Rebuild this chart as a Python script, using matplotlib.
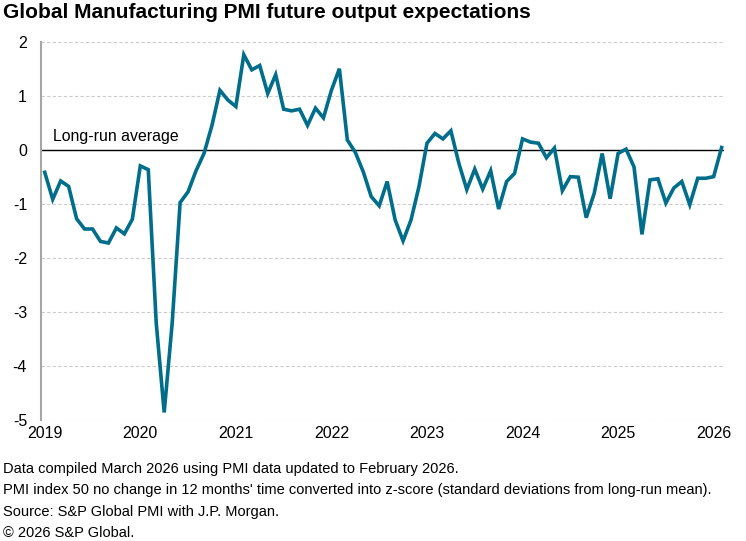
import matplotlib.pyplot as plt
import numpy as np

plt.rcParams["font.family"] = ["Liberation Sans", "DejaVu Sans"]
plt.rcParams["axes.unicode_minus"] = False

# monthly z-scores, Jan 2019 .. Feb 2026
values = [
    -0.41, -0.91, -0.57, -0.67, -1.27, -1.46, -1.46, -1.69, -1.72, -1.44, -1.55, -1.28,  # 2019
    -0.29, -0.36, -3.20, -4.86, -3.21, -0.97, -0.77, -0.38, -0.06, 0.46, 1.11, 0.93,     # 2020
    0.81, 1.77, 1.49, 1.57, 1.05, 1.40, 0.76, 0.73, 0.76, 0.46, 0.78, 0.60,              # 2021
    1.11, 1.51, 0.19, -0.04, -0.40, -0.86, -1.03, -0.58, -1.29, -1.68, -1.29, -0.67,     # 2022
    0.13, 0.31, 0.21, 0.36, -0.24, -0.73, -0.35, -0.72, -0.38, -1.09, -0.58, -0.43,      # 2023
    0.21, 0.15, 0.13, -0.14, 0.04, -0.75, -0.49, -0.50, -1.25, -0.80, -0.06, -0.90,      # 2024
    -0.06, 0.02, -0.31, -1.56, -0.55, -0.53, -0.98, -0.70, -0.58, -1.01, -0.52, -0.52,   # 2025
    -0.49, 0.05,                                                                         # 2026
]
years = [2019, 2020, 2021, 2022, 2023, 2024, 2025, 2026]
yticks = [2, 1, 0, -1, -2, -3, -4, -5]

footnotes = [
    "Data compiled March 2026 using PMI data updated to February 2026.",
    "PMI index 50 no change in 12 months' time converted into z-score (standard deviations from long-run mean).",
    "Source: S&P Global PMI with J.P. Morgan.",
    "\u00a9 2026 S&P Global.",
]

months = np.arange(len(values))

fig = plt.figure(figsize=(7.46, 5.41), dpi=100)
ax = fig.add_axes([41 / 746, 1 - 420 / 541, (724 - 41) / 746, (420 - 42.3) / 541])

for y in yticks:
    ax.axhline(y, color="#cccccc", lw=0.8, ls=(0, (3, 2)), zorder=1)
ax.axhline(0, color="black", lw=1.0, zorder=2)
ax.plot(months, values, color="#006E8A", lw=2.6, solid_joinstyle="miter", zorder=3)

ax.text(1.0, 0.12, "Long-run average", fontsize=11.4, va="bottom", ha="left")

ax.set_xlim(-0.47, 85.3)
ax.set_ylim(-5, 2)
ax.set_yticks(yticks)
ax.set_xticks([(y - 2019) * 12 for y in years])
ax.set_xticklabels([str(y) for y in years])
ax.tick_params(length=0, labelsize=11.5, pad=4)
ax.tick_params(axis="y", pad=10)
for s in ["top", "right", "bottom"]:
    ax.spines[s].set_visible(False)
ax.spines["left"].set_color("#a6a6a6")
ax.spines["left"].set_linewidth(1.5)

fig.text(3 / 746, 1 - 13 / 541, "Global Manufacturing PMI future output expectations",
         fontsize=15, fontweight="bold", va="center", ha="left")

for i, line in enumerate(footnotes):
    fig.text(3 / 746, 1 - (469 + 21.3 * i) / 541, line, fontsize=10.5, va="center", ha="left")

fig.savefig("out.png", dpi=100)
